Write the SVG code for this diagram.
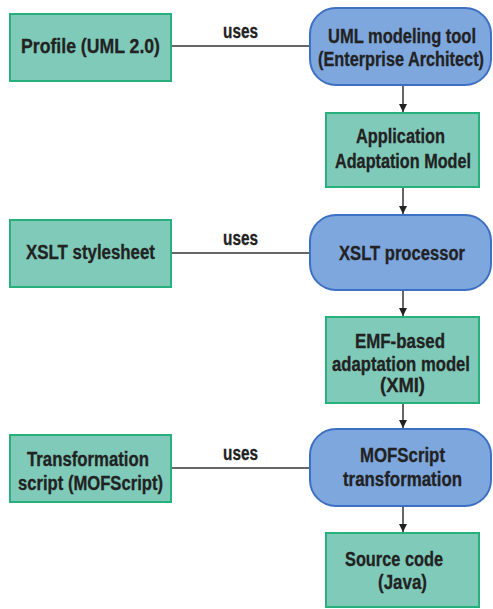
<svg xmlns="http://www.w3.org/2000/svg" width="493" height="609" viewBox="0 0 493 609">
  <style>
    .box { fill: #7fcab9; stroke: #27b07c; stroke-width: 2; }
    .proc { fill: #7ea7de; stroke: #3d6fc4; stroke-width: 2; }
    .lbl { font-family: "Liberation Sans", Arial, sans-serif; font-weight: bold; font-size: 20px; fill: #222; stroke: #222; stroke-width: 0.3; }
    .edge { stroke: #333; stroke-width: 1.5; fill: none; }
  </style>
  <defs>
    <marker id="arrow" viewBox="0 0 10 10" refX="10" refY="5" markerWidth="8" markerHeight="8" markerUnits="userSpaceOnUse" orient="auto">
      <path d="M0,0 L10,5 L0,10 z" fill="#222"/>
    </marker>
  </defs>
  <rect width="493" height="609" fill="#ffffff"/>

  <g id="connectors">
    <line class="edge" x1="171" y1="46" x2="310" y2="46"/>
    <text class="lbl" x="223" y="38" textLength="35" lengthAdjust="spacingAndGlyphs">uses</text>
    <line class="edge" x1="171" y1="253" x2="310" y2="253"/>
    <text class="lbl" x="223" y="245" textLength="35" lengthAdjust="spacingAndGlyphs">uses</text>
    <line class="edge" x1="171" y1="468" x2="310" y2="468"/>
    <text class="lbl" x="223" y="460" textLength="35" lengthAdjust="spacingAndGlyphs">uses</text>
    <line class="edge" x1="403" y1="85" x2="403" y2="112" marker-end="url(#arrow)"/>
    <line class="edge" x1="403" y1="187" x2="403" y2="214" marker-end="url(#arrow)"/>
    <line class="edge" x1="403" y1="290" x2="403" y2="316" marker-end="url(#arrow)"/>
    <line class="edge" x1="403" y1="403" x2="403" y2="428" marker-end="url(#arrow)"/>
    <line class="edge" x1="403" y1="506" x2="403" y2="532" marker-end="url(#arrow)"/>
  </g>

  <g id="profile">
    <rect class="box" x="10" y="14" width="161" height="67"/>
    <text class="lbl" x="21" y="53" textLength="139" lengthAdjust="spacingAndGlyphs">Profile (UML 2.0)</text>
  </g>
  <g id="uml-tool">
    <rect class="proc" x="310" y="8" width="181" height="77" rx="26" ry="26"/>
    <text class="lbl" x="328" y="43" textLength="148" lengthAdjust="spacingAndGlyphs">UML modeling tool</text>
    <text class="lbl" x="318" y="66" textLength="166" lengthAdjust="spacingAndGlyphs">(Enterprise Architect)</text>
  </g>
  <g id="app-model">
    <rect class="box" x="326" y="113" width="153" height="74"/>
    <text class="lbl" x="356" y="143" textLength="89" lengthAdjust="spacingAndGlyphs">Application</text>
    <text class="lbl" x="335" y="168" textLength="136" lengthAdjust="spacingAndGlyphs">Adaptation Model</text>
  </g>
  <g id="xslt-stylesheet">
    <rect class="box" x="10" y="220" width="161" height="67"/>
    <text class="lbl" x="26" y="259" textLength="129" lengthAdjust="spacingAndGlyphs">XSLT stylesheet</text>
  </g>
  <g id="xslt-processor">
    <rect class="proc" x="310" y="215" width="181" height="75" rx="26" ry="26"/>
    <text class="lbl" x="339" y="260" textLength="126" lengthAdjust="spacingAndGlyphs">XSLT processor</text>
  </g>
  <g id="emf-model">
    <rect class="box" x="326" y="317" width="153" height="86"/>
    <text class="lbl" x="355" y="348" textLength="90" lengthAdjust="spacingAndGlyphs">EMF-based</text>
    <text class="lbl" x="332" y="371" textLength="138" lengthAdjust="spacingAndGlyphs">adaptation model</text>
    <text class="lbl" x="380" y="392" textLength="45" lengthAdjust="spacingAndGlyphs">(XMI)</text>
  </g>
  <g id="transformation-script">
    <rect class="box" x="10" y="435" width="161" height="67"/>
    <text class="lbl" x="27" y="466" textLength="122" lengthAdjust="spacingAndGlyphs">Transformation</text>
    <text class="lbl" x="18" y="490" textLength="145" lengthAdjust="spacingAndGlyphs">script (MOFScript)</text>
  </g>
  <g id="mofscript">
    <rect class="proc" x="310" y="429" width="181" height="77" rx="26" ry="26"/>
    <text class="lbl" x="360" y="462" textLength="85" lengthAdjust="spacingAndGlyphs">MOFScript</text>
    <text class="lbl" x="343" y="486" textLength="119" lengthAdjust="spacingAndGlyphs">transformation</text>
  </g>
  <g id="source-code">
    <rect class="box" x="326" y="533" width="153" height="74"/>
    <text class="lbl" x="345" y="566" textLength="98" lengthAdjust="spacingAndGlyphs">Source code</text>
    <text class="lbl" x="378" y="589" textLength="49" lengthAdjust="spacingAndGlyphs">(Java)</text>
  </g>
</svg>
